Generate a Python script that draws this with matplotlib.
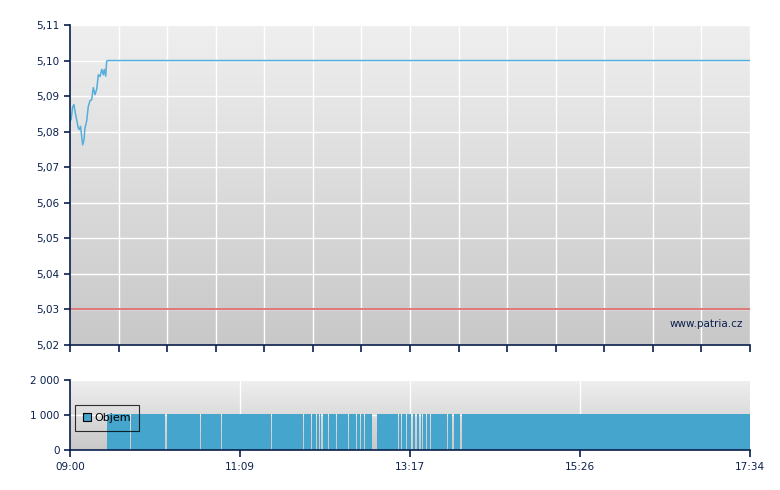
import numpy as np
import matplotlib
matplotlib.use("Agg")
import matplotlib.pyplot as plt
from matplotlib.patches import Rectangle

# ---- data (minutes after 09:00) ----
price_min = [0, 0.8, 2, 3, 3.8, 5, 6.3, 7, 8, 8.8, 9.6, 10.6, 11.3, 12.6, 13.8,
             15.1, 16.4, 17.6, 18.9, 20.2, 21.4, 22.7, 24, 25.2, 25.9, 27, 27.7,
             28.5, 514]
price_val = [5.0830, 5.0834, 5.0870, 5.0876, 5.0857, 5.0834, 5.0810, 5.0806,
             5.0815, 5.0787, 5.0763, 5.0777, 5.0810, 5.0830, 5.0870, 5.0887,
             5.0890, 5.0924, 5.0904, 5.0920, 5.0960, 5.0955, 5.0975, 5.0960,
             5.0975, 5.0956, 5.0998, 5.1000, 5.1000]
ref_price = 5.03

vol_first_min = 28
vol_last_min = 514
vol_missing_min = [45, 72, 98, 114, 152, 176, 182, 186, 188, 190, 195, 201, 210,
                   216, 219, 222, 228, 229, 230, 231, 248, 250, 254, 258, 261,
                   264, 266, 269, 272, 285, 289, 295]
vol_level = 1030

x_tick_labels = ["09:00", "11:09", "13:17", "15:26", "17:34"]
price_ticks = [5.02, 5.03, 5.04, 5.05, 5.06, 5.07, 5.08, 5.09, 5.10, 5.11]
vol_ticks = [0, 1000, 2000]
vol_tick_labels = ["0", "1 000", "2 000"]

# ---- style ----
NAVY = "#0b1f4d"
TOTAL = 514

fig = plt.figure(figsize=(7.8, 4.9), dpi=100)
fig.patch.set_facecolor("white")

ax = fig.add_axes([70/780, 1-345/490, 680/780, 320/490])
axv = fig.add_axes([70/780, 1-450/490, 680/780, 70/490])

def gradient(a, top="#efefef", bottom="#c8c8c8"):
    c1 = np.array(matplotlib.colors.to_rgb(top))
    c2 = np.array(matplotlib.colors.to_rgb(bottom))
    t = np.linspace(0, 1, 256)[:, None]
    img = (c1 * (1 - t) + c2 * t)[:, None, :]
    a.imshow(img, aspect="auto", extent=[0, 1, 0, 1], transform=a.transAxes,
             zorder=0, interpolation="bilinear")

for a in (ax, axv):
    gradient(a)
    for s in ("top", "right"):
        a.spines[s].set_visible(False)
    for s in ("left", "bottom"):
        a.spines[s].set_color(NAVY)
        a.spines[s].set_linewidth(1.2)
        a.spines[s].set_zorder(5)
    a.tick_params(colors=NAVY, labelcolor=NAVY, labelsize=7.5, width=1.2,
                  length=4, direction="out")
    a.set_xlim(0, TOTAL)

# main price panel
ax.set_ylim(5.02, 5.11)
ax.set_yticks(price_ticks)
ax.set_yticklabels([f"{v:.2f}".replace(".", ",") for v in price_ticks])
main_xt = np.linspace(0, TOTAL, 15)
ax.set_xticks(main_xt)
ax.set_xticklabels([])
ax.tick_params(axis="x", length=5)
for y in price_ticks[1:]:
    ax.axhline(y, color="white", lw=1, zorder=1)
for x in main_xt[1:]:
    ax.axvline(x, color="white", lw=1, zorder=1)
ax.axhline(ref_price, color="#e07878", lw=1.4, zorder=3)
ax.plot(price_min, price_val, color="#55aedb", lw=1.1, zorder=4)
ax.text(0.99, 0.065, "www.patria.cz", transform=ax.transAxes, ha="right",
        va="center", color=NAVY, fontsize=7.5, zorder=6)

# volume panel
axv.set_ylim(0, 2000)
axv.set_yticks(vol_ticks)
axv.set_yticklabels(vol_tick_labels)
vol_xt = np.linspace(0, TOTAL, 5)
axv.set_xticks(vol_xt)
axv.set_xticklabels(x_tick_labels)
axv.tick_params(axis="x", length=5)
axv.axhline(1000, color="white", lw=1, zorder=1)
axv.axhline(2000, color="white", lw=1.5, zorder=1)
for x in vol_xt[1:-1]:
    axv.axvline(x, color="white", lw=1, zorder=1)

minutes = [m for m in range(vol_first_min, vol_last_min) if m not in vol_missing_min]
vols = [vol_level for _ in minutes]
axv.bar(minutes, vols, width=1.0, align="edge", color="#45a5cd",
        edgecolor="none", linewidth=0, zorder=2)

handle = Rectangle((0, 0), 1, 1, facecolor="#45a5cd", edgecolor="black", lw=0.8)
leg = axv.legend([handle], ["Objem"], loc="upper left",
                 bbox_to_anchor=(5/680, 45/70), frameon=True, fontsize=8,
                 handlelength=0.75, handleheight=0.75, handletextpad=0.3,
                 borderpad=0.7, borderaxespad=0, fancybox=False)
leg.get_frame().set_edgecolor("black")
leg.get_frame().set_facecolor("none")
leg.get_frame().set_linewidth(0.8)
leg.set_zorder(7)

fig.savefig("out.png", dpi=100)
